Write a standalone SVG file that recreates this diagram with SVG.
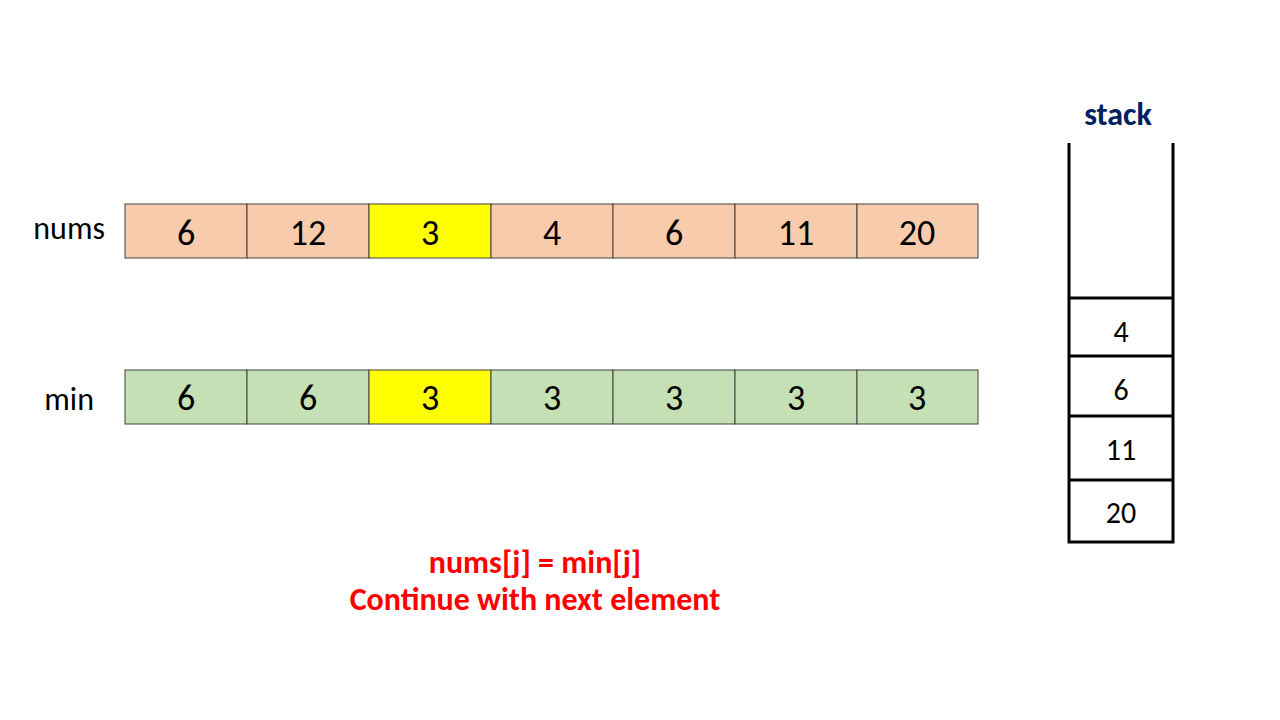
<svg xmlns="http://www.w3.org/2000/svg" width="1280" height="720" viewBox="0 0 1280 720">
<style>
text{font-family:Carlito,Lato,"Open Sans","Liberation Sans",sans-serif}
.cell{stroke:#404040;stroke-width:1}
.n{fill:#F8CBAD}
.m{fill:#C5E0B4}
.h{fill:#FFFF00}
.v{font-size:36px;text-anchor:middle;fill:#000}
.lbl{font-size:32px;text-anchor:end;fill:#000}
.st{stroke:#000;stroke-width:3;fill:none}
.sv{font-size:30px;text-anchor:middle;fill:#000}
.red{font-size:32px;font-weight:bold;fill:#FF0000;text-anchor:middle}
</style>
<rect width="1280" height="720" fill="#fff"/>
<g id="nums">
<text class="lbl" x="105" y="239">nums</text>
<rect class="cell n" x="125" y="204" width="122" height="54"/><text class="v" x="186" y="245">6</text>
<rect class="cell n" x="247" y="204" width="122" height="54"/><text class="v" x="308" y="245">12</text>
<rect class="cell h" x="369" y="204" width="122" height="54"/><text class="v" x="430" y="245">3</text>
<rect class="cell n" x="491" y="204" width="122" height="54"/><text class="v" x="552" y="245">4</text>
<rect class="cell n" x="613" y="204" width="122" height="54"/><text class="v" x="674" y="245">6</text>
<rect class="cell n" x="735" y="204" width="122" height="54"/><text class="v" x="796" y="245">11</text>
<rect class="cell n" x="857" y="204" width="121" height="54"/><text class="v" x="917" y="245">20</text>
</g>
<g id="min">
<text class="lbl" x="94" y="410">min</text>
<rect class="cell m" x="125" y="370" width="122" height="54"/><text class="v" x="186" y="410">6</text>
<rect class="cell m" x="247" y="370" width="122" height="54"/><text class="v" x="308" y="410">6</text>
<rect class="cell h" x="369" y="370" width="122" height="54"/><text class="v" x="430" y="410">3</text>
<rect class="cell m" x="491" y="370" width="122" height="54"/><text class="v" x="552" y="410">3</text>
<rect class="cell m" x="613" y="370" width="122" height="54"/><text class="v" x="674" y="410">3</text>
<rect class="cell m" x="735" y="370" width="122" height="54"/><text class="v" x="796" y="410">3</text>
<rect class="cell m" x="857" y="370" width="121" height="54"/><text class="v" x="917" y="410">3</text>
</g>
<g id="stack">
<text x="1118" y="125" font-size="32" font-weight="bold" fill="#002060" text-anchor="middle">stack</text>
<path class="st" d="M1069 143 V542 H1173 V143"/>
<path class="st" d="M1069 298 H1173 M1069 356 H1173 M1069 416 H1173 M1069 480 H1173"/>
<text class="sv" x="1121" y="342">4</text>
<text class="sv" x="1121" y="400">6</text>
<text class="sv" x="1121" y="460">11</text>
<text class="sv" x="1121" y="523">20</text>
</g>
<g id="note">
<text class="red" x="535" y="573">nums[j] = min[j]</text>
<text class="red" x="535" y="610">Continue with next element</text>
</g>
<g id="connectors"/>
</svg>
